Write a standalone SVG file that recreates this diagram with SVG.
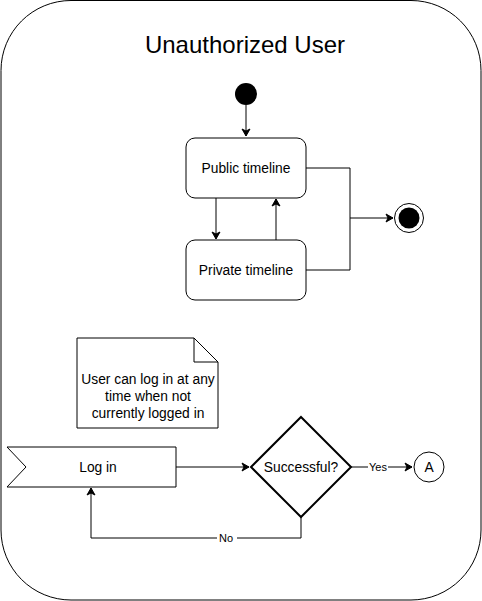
<svg xmlns="http://www.w3.org/2000/svg" width="482" height="601" viewBox="0 0 482 601">
<style>
text{font-family:"Liberation Sans",Arial,sans-serif;fill:#000;}
.lbl{font-size:13.8px;text-anchor:middle;}
.box{fill:#fff;stroke:#000;stroke-width:1;}
.edge{fill:none;stroke:#000;stroke-width:1;}
.elbl{font-size:11px;text-anchor:middle;}
</style>
<defs>
<marker id="arr" markerWidth="10" markerHeight="10" refX="8" refY="5" orient="auto" markerUnits="userSpaceOnUse">
<path d="M1,1 L8,5 L1,9 L3,5 Z" fill="#000" stroke="#000" stroke-width="1"/>
</marker>
</defs>
<rect width="482" height="601" fill="#fff"/>
<g id="container">
<rect x="1" y="0.5" width="480" height="599.5" rx="70" ry="70" fill="#fff" stroke="#000" stroke-width="1"/>
<text x="245" y="53" font-size="24" text-anchor="middle">Unauthorized User</text>
</g>
<g id="connectors">
<path class="edge" d="M246,105 V136" marker-end="url(#arr)"/>
<path class="edge" d="M216,198 V239" marker-end="url(#arr)"/>
<path class="edge" d="M276,240 V199" marker-end="url(#arr)"/>
<path class="edge" d="M306,168 H350 V218 H393" marker-end="url(#arr)"/>
<path class="edge" d="M306,270 H350 V218"/>
<path class="edge" d="M176,467 H249" marker-end="url(#arr)"/>
<path class="edge" d="M351,467 H412" marker-end="url(#arr)"/>
<path class="edge" d="M301,517 V538 H91 V488" marker-end="url(#arr)"/>
<rect x="368" y="460" width="20" height="14" fill="#fff"/>
<text class="elbl" x="378" y="471">Yes</text>
<rect x="217" y="531" width="20" height="14" fill="#fff"/>
<text class="elbl" x="226" y="542">No</text>
</g>
<g id="start">
<circle cx="246" cy="94" r="11" fill="#000"/>
</g>
<g id="public">
<rect class="box" x="186" y="138" width="120" height="60" rx="9"/>
<text class="lbl" x="246" y="173">Public timeline</text>
</g>
<g id="private">
<rect class="box" x="186" y="240" width="120" height="60" rx="9"/>
<text class="lbl" x="246" y="275">Private timeline</text>
</g>
<g id="end">
<circle cx="409" cy="218" r="14.5" fill="#fff" stroke="#000" stroke-width="1"/>
<circle cx="409" cy="218" r="10.5" fill="#000"/>
</g>
<g id="note">
<path class="box" d="M77,338 H194 L218,362 V428 H77 Z"/>
<path class="edge" d="M194,338 V362 H218"/>
<text class="lbl" x="148" y="384">User can log in at any</text>
<text class="lbl" x="148" y="401">time when not</text>
<text class="lbl" x="148" y="418">currently logged in</text>
</g>
<g id="login">
<path class="box" d="M7,447 H176 V487 H7 L26,467 Z"/>
<text class="lbl" x="98" y="472">Log in</text>
</g>
<g id="decision">
<path d="M301,417 L351,467 L301,517 L251,467 Z" fill="#fff" stroke="#000" stroke-width="2"/>
<text class="lbl" x="301" y="472">Successful?</text>
</g>
<g id="connectorA">
<circle cx="429" cy="467" r="15" fill="#fff" stroke="#000" stroke-width="1"/>
<text class="lbl" x="429" y="472">A</text>
</g>
</svg>
